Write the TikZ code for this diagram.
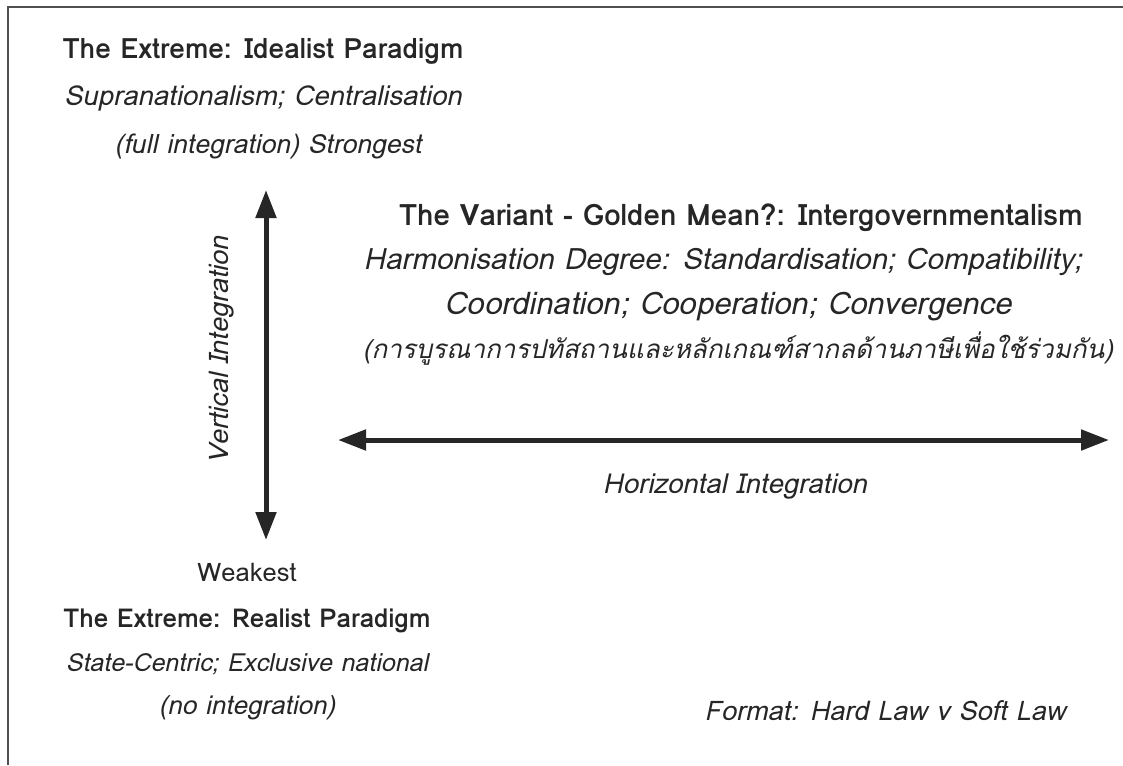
\documentclass[tikz,border=0pt]{standalone}
\usepackage{fontspec}
\setmainfont{Loma}[Script=Thai]
\usetikzlibrary{positioning,arrows.meta}

\definecolor{inkgray}{HTML}{262626}
\definecolor{framegray}{HTML}{505050}

\begin{document}
\begin{tikzpicture}[x=1pt, y=-1pt,
    headnode/.style={font=\fontsize{#1}{#1}\selectfont\bfseries, text=inkgray, inner sep=0pt, text height=19pt, text depth=6pt},
    linenode/.style={font=\fontsize{#1}{#1}\selectfont\itshape, text=inkgray, inner sep=0pt, text height=19pt, text depth=6pt},
    plainnode/.style={font=\fontsize{#1}{#1}\selectfont, text=inkgray, inner sep=0pt, text height=19pt, text depth=6pt},
    axisarrow/.style={line width=5pt, draw=inkgray, {Triangle[length=28pt,width=20pt]}-{Triangle[length=28pt,width=20pt]}}]
    \useasboundingbox (0,0) rectangle (1123,765);

    %Frame
    \draw[framegray, line width=2pt] (8,765) -- (8,7) -- (1123,7);

    %Nodes
    \node[headnode=28] (idealist) at (263,52) {The Extreme: Idealist Paradigm};
    \node[linenode=27.5] (supra) [below=22pt of idealist] {Supranationalism; Centralisation};
    \node[linenode=26.5] (strongest) [below=22pt of supra, xshift=5pt] {(full integration) Strongest};

    \node[headnode=29.5] (variant) at (741,219) {The Variant - Golden Mean?: Intergovernmentalism};
    \node[linenode=29.5] (harmon) [below=19pt of variant, xshift=-18pt] {Harmonisation Degree: Standardisation; Compatibility;};
    \node[linenode=31] (coord) [below=19pt of harmon, xshift=5pt] {Coordination; Cooperation; Convergence};
    \node[linenode=26] (thai) [below=19pt of coord, xshift=10pt] {(การบูรณาการปทัสถานและหลักเกณฑ์สากลด้านภาษีเพื่อใช้ร่วมกัน)};

    \node[linenode=27.5] (horizontal) at (735,487) {Horizontal Integration};
    \node[linenode=27, rotate=90] (vertical) at (222,350) {Vertical Integration};

    \node[plainnode=25.5] (weakest) at (247,575) {Weakest};
    \node[headnode=26] (realist) [below=21pt of weakest] {The Extreme: Realist Paradigm};
    \node[linenode=25] (statecentric) [below=18pt of realist] {State-Centric; Exclusive national};
    \node[linenode=26] (nointeg) [below=18pt of statecentric] {(no integration)};

    \node[linenode=27] (format) at (885,714) {Format: Hard Law v Soft Law};

    %Arrows
    \coordinate (vtop) at (266,190);
    \coordinate (vbot) at (266,540);
    \coordinate (hleft) at (338,440);
    \coordinate (hright) at (1109,440);
    \draw[axisarrow] (vtop) -- (vbot);
    \draw[axisarrow] (hleft) -- (hright);
\end{tikzpicture}
\end{document}
